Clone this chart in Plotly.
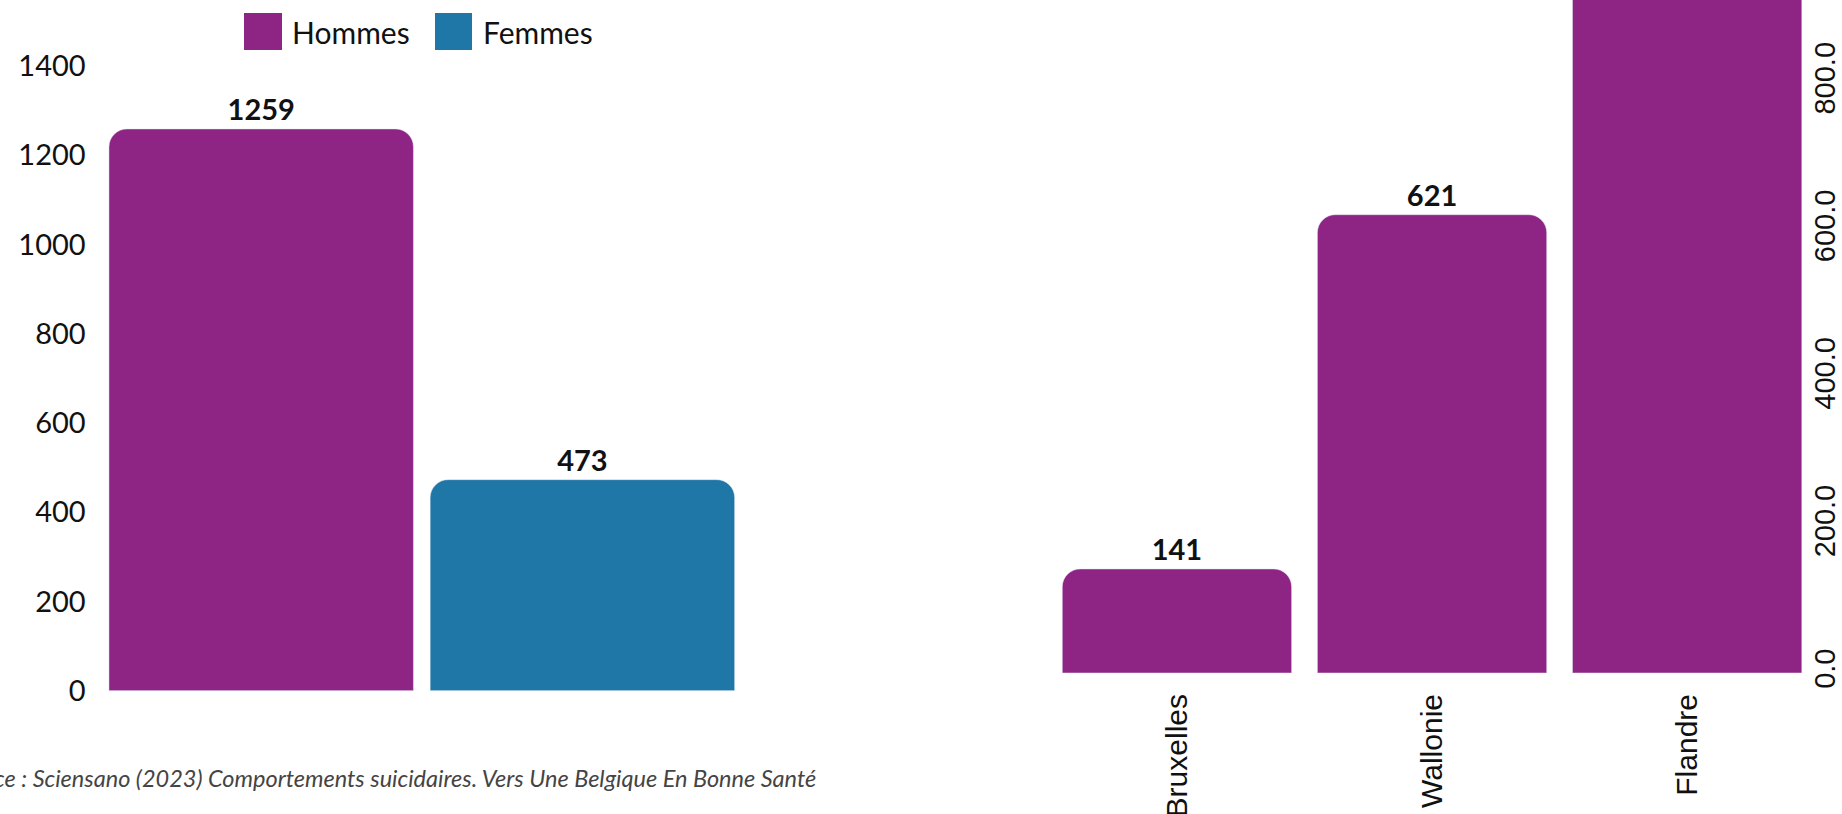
import plotly.graph_objects as go

# ---- data ----
sexes = ["Hommes", "Femmes"]
sex_values = [1259, 473]
regions = ["Bruxelles", "Wallonie", "Flandre"]
region_values = [141, 621, 970]
left_tickvals = [0, 200, 400, 600, 800, 1000, 1200, 1400]
right_tickvals = [0, 200, 400, 600, 800]
right_ticktext = ["0.0", "200.0", "400.0", "600.0", "800.0"]
source_text = "Source : Sciensano (2023) Comportements suicidaires. Vers Une Belgique En Bonne Santé"

PURPLE = "#8e2585"
BLUE = "#1f77a8"
sex_colors = [PURPLE, BLUE]

W, H = 1842, 814


def px(x):
    return x / W


def py(y):
    return 1 - y / H


left_ymax = 690.7 / 0.4462
right_ymax = 673 / 0.738

fig = go.Figure()

for name, val, col in zip(sexes, sex_values, sex_colors):
    fig.add_trace(go.Bar(
        x=[name], y=[val], name=name, marker_color=col, width=0.948,
        text=[f"<b>{val}</b>"], textposition="outside",
        textfont=dict(family="Lato", size=29, color="#111"),
        xaxis="x", yaxis="y", showlegend=False,
    ))

# labels of bars that run past the top of the axis are not visible
region_text = [f"<b>{v}</b>" if v <= right_ymax else "" for v in region_values]
fig.add_trace(go.Bar(
    x=regions, y=region_values, marker_color=PURPLE, width=0.899,
    text=region_text, textposition="outside",
    textfont=dict(family="Lato", size=29, color="#111"),
    xaxis="x2", yaxis="y2", showlegend=False,
))

# manual legend (large swatches)
legend_items = [(sexes[0], PURPLE, 244, 282, 290), (sexes[1], BLUE, 435, 472, 481)]
shapes = []
annotations = []
for name, col, x0, x1, tx in legend_items:
    shapes.append(dict(type="rect", xref="paper", yref="paper",
                       x0=px(x0), x1=px(x1), y0=py(50), y1=py(13),
                       fillcolor=col, line=dict(width=0)))
    annotations.append(dict(text=name, xref="paper", yref="paper",
                            x=px(tx), y=py(32), xanchor="left", yanchor="middle",
                            showarrow=False,
                            font=dict(family="Lato", size=30, color="#111")))

annotations.append(dict(text=source_text, xref="paper", yref="paper",
                        x=px(818), y=py(778), xanchor="right", yanchor="middle",
                        showarrow=False,
                        font=dict(family="Lato", size=23.5, color="#444", style="italic")))

fig.update_layout(
    width=W, height=H,
    margin=dict(l=0, r=0, t=0, b=0, autoexpand=False),
    paper_bgcolor="white", plot_bgcolor="white",
    barmode="overlay",
    barcornerradius=18,
    shapes=shapes,
    annotations=annotations,
    xaxis=dict(domain=[px(100.6), px(743)], range=[-0.5, 1.5], anchor="y", automargin=False,
               showticklabels=False, showgrid=False, zeroline=False, showline=False, ticks=""),
    yaxis=dict(domain=[(H - 690.7) / H, 1], range=[0, left_ymax], anchor="x", automargin=False,
               tickvals=left_tickvals, showgrid=False, zeroline=False, showline=False, ticks="",
               tickfont=dict(family="Lato", size=29, color="#111"), ticklabelstandoff=14),
    xaxis2=dict(domain=[px(1049.4), px(1814.7)], range=[-0.5, 2.5], anchor="y2", automargin=False,
                tickangle=-90, showgrid=False, zeroline=False, showline=False, ticks="",
                tickfont=dict(family="Liberation Sans", size=30, color="#111"), ticklabelstandoff=14),
    yaxis2=dict(domain=[(H - 673) / H, 1], range=[0, right_ymax], anchor="free", position=px(1805),
                side="right", overlaying=None, automargin=False,
                tickvals=right_tickvals, ticktext=right_ticktext, tickangle=-90,
                showgrid=False, zeroline=False, showline=False, ticks="",
                tickfont=dict(family="Liberation Sans", size=29, color="#111")),
)

fig.write_html("out.html")
